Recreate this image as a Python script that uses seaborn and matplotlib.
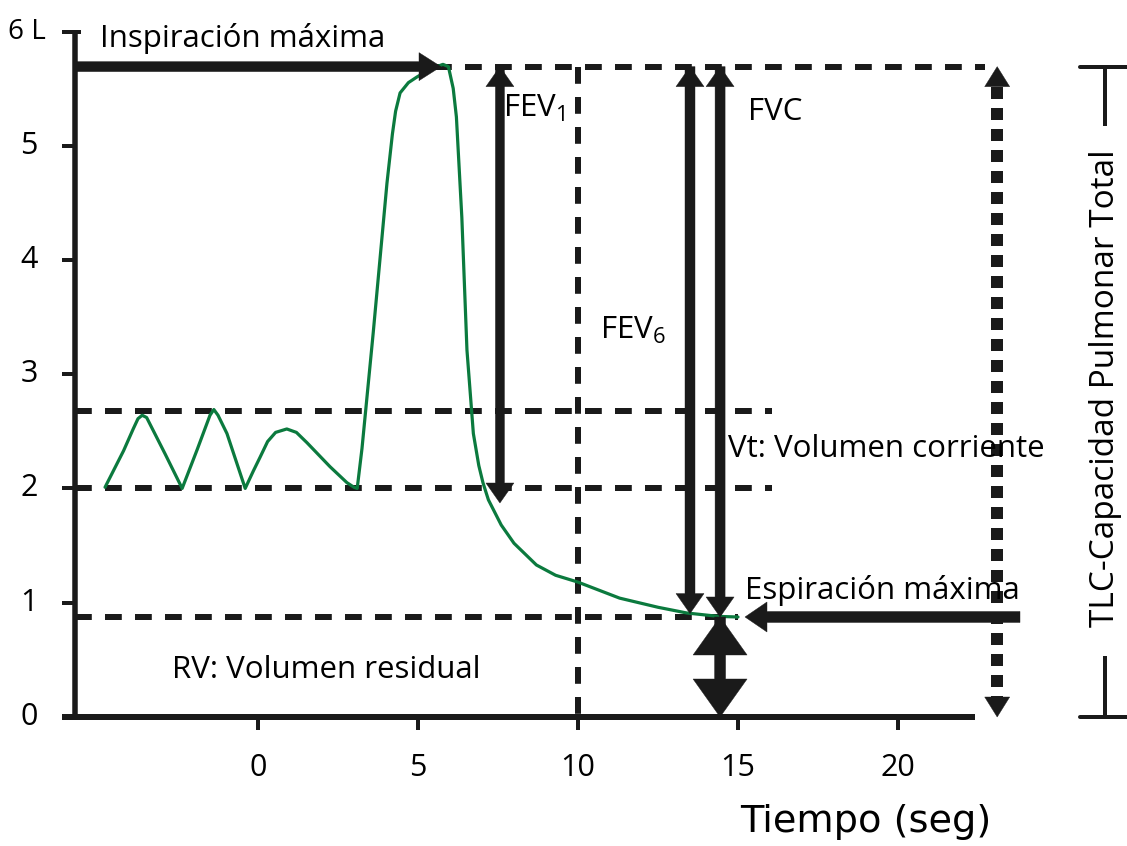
import numpy as np
import pandas as pd
import matplotlib
matplotlib.use("Agg")
import matplotlib.pyplot as plt
import seaborn as sns

# ---------------- data ----------------
time_s = [-4.78, -4.2, -3.9, -3.75, -3.62, -3.48, -2.9, -2.37, -1.9, -1.5, -1.38, -1.25,
          -0.97, -0.4, -0.15, 0.06, 0.3, 0.55, 0.9, 1.2, 1.53, 2.25, 2.78, 3.0, 3.1,
          3.25, 3.6, 4.03, 4.2, 4.3, 4.44, 4.7, 4.97, 5.4, 5.78, 5.95, 6.1, 6.2, 6.37,
          6.53, 6.73, 6.9, 7.03, 7.2, 7.6, 8.0, 8.7, 9.3, 10.0, 11.3, 12.5, 13.4, 14.4, 15.0]
volume_l = [2.01, 2.33, 2.52, 2.61, 2.64, 2.62, 2.3, 2.0, 2.34, 2.64, 2.69, 2.64,
            2.48, 2.0, 2.15, 2.27, 2.41, 2.49, 2.52, 2.49, 2.40, 2.19, 2.05, 2.01, 2.0,
            2.35, 3.36, 4.67, 5.1, 5.3, 5.46, 5.55, 5.6, 5.67, 5.71, 5.69, 5.5, 5.25, 4.37,
            3.21, 2.48, 2.2, 2.05, 1.9, 1.68, 1.52, 1.33, 1.24, 1.18, 1.04, 0.96, 0.91, 0.88, 0.875]

y_ticks = [0, 1, 2, 3, 4, 5]
y_tick_labels = ["0", "1", "2", "3", "4", "5"]
x_ticks = [0, 5, 10, 15, 20]
x_tick_labels = ["0", "5", "10", "15", "20"]

TLC = 5.69        # inspiración máxima
VT_TOP = 2.68     # tidal top
VT_BOT = 2.0      # tidal bottom
RV = 0.875        # volumen residual
T_FEV1 = 7.56
T_DASH = 10.0
T_FEV6 = 13.5
T_FVC = 14.44
T_TLC = 23.1

GREEN = "#0b7a3e"
INK = "#000000"
FONT = ["Open Sans", "DejaVu Sans"]

# ---------------- figure ----------------
sns.set_theme(style="white")
plt.rcParams["font.family"] = FONT
plt.rcParams["mathtext.fontset"] = "custom"
plt.rcParams["mathtext.rm"] = "Open Sans"
plt.rcParams["mathtext.it"] = "Open Sans"

fig = plt.figure(figsize=(11.27, 8.46), dpi=100)
ax = fig.add_axes([0, 0, 1, 1])
PX = 32.0     # pixels per second
PY = 114.3    # pixels per litre
ax.set_xlim(-258 / PX, (1127 - 258) / PX)
ax.set_ylim(-(846 - 717) / PY, 717 / PY)
ax.axis("off")

def px2pt(p):
    return p * 0.72

AX_X = (75 - 258) / PX
# axes
ax.plot([AX_X, AX_X], [0, 5.99], color="k", lw=px2pt(5.5), solid_capstyle="butt")
ax.plot([(62 - 258) / PX, (975 - 258) / PX], [0, 0], color="k", lw=px2pt(6), solid_capstyle="butt")
ax.plot([(62 - 258) / PX, (81 - 258) / PX], [5.99, 5.99], color="k", lw=px2pt(4), solid_capstyle="butt")
for yt, lab in zip(y_ticks, y_tick_labels):
    ax.plot([(62 - 258) / PX, AX_X], [yt, yt], color="k", lw=px2pt(4), solid_capstyle="butt")
    ax.text((29 - 258) / PX, yt, lab, ha="center", va="center", fontsize=22, color=INK)
ax.text((27 - 258) / PX, 5.99, "6 L", ha="center", va="center", fontsize=20, color=INK)
for xt, lab in zip(x_ticks, x_tick_labels):
    ax.plot([xt, xt], [0, -13 / PY], color="k", lw=px2pt(4), solid_capstyle="butt")
    ax.text(xt, -51 / PY, lab, ha="center", va="center", fontsize=22, color=INK)
ax.text(19.0, -105 / PY, "Tiempo (seg)", ha="center", va="center", fontsize=27.5,
        color=INK, family=["DejaVu Sans"])

# dashed reference lines
dash_lw = px2pt(6)
dash = (0, (2.8, 2.2))
ax.plot([AX_X, (985 - 258) / PX], [TLC, TLC], color="k", lw=dash_lw, ls=dash, dash_capstyle="butt")
ax.plot([AX_X, 16.06], [VT_TOP, VT_TOP], color="k", lw=dash_lw, ls=dash, dash_capstyle="butt")
ax.plot([AX_X, 16.06], [VT_BOT, VT_BOT], color="k", lw=dash_lw, ls=dash, dash_capstyle="butt")
ax.plot([AX_X, 15.0], [RV, RV], color="k", lw=dash_lw, ls=dash, dash_capstyle="butt")
ax.plot([T_DASH, T_DASH], [TLC, 0], color="k", lw=dash_lw, ls=dash, dash_capstyle="butt")

# curve
df = pd.DataFrame({"t": time_s, "v": volume_l})
sns.lineplot(data=df, x="t", y="v", color=GREEN, lw=2.3, sort=False, estimator=None, ax=ax)
ax.set_xlabel(""); ax.set_ylabel("")

# arrows
def harrow(x0, x1, y, shaft, hw, hl):
    ax.arrow(x0, y, x1 - x0, 0, width=shaft / PY, head_width=hw / PY, head_length=hl / PX,
             length_includes_head=True, fc="k", ec="k", lw=0.3, zorder=4)

def varrow(x, y0, y1, shaft, hw, hl):
    ax.arrow(x, y0, 0, y1 - y0, width=shaft / PX, head_width=hw / PX, head_length=hl / PY,
             length_includes_head=True, fc="k", ec="k", lw=0.3, zorder=4)

def vdouble(x, ya, yb, shaft, hw, hl):
    # full arrow towards yb, plus a head at ya
    varrow(x, ya, yb, shaft, hw, hl)
    sgn = 1 if ya > yb else -1
    varrow(x, ya - sgn * hl / PY, ya, 0.1, hw, hl)

harrow(AX_X, (441 - 258) / PX, TLC, 10, 28, 22)
vdouble(T_FEV1, TLC, (717 - 503) / PY, 9, 28, 20)
vdouble(T_FEV6, TLC, 0.905, 10, 28, 20)
vdouble(T_FVC, TLC, RV, 10, 28, 20)
harrow((1020 - 258) / PX, (745 - 258) / PX, RV, 11, 30, 22)
vdouble(T_FVC, RV, 0.0, 11, 54, 38)

# dotted TLC arrow
hl_d = 20
ax.plot([T_TLC, T_TLC], [TLC - hl_d / PY, hl_d / PY], color="k", lw=px2pt(12),
        ls=(0, (1.0, 0.75)), dash_capstyle="butt")
varrow(T_TLC, TLC - hl_d / PY, TLC, 0.1, 25, hl_d)
varrow(T_TLC, hl_d / PY, 0.0, 0.1, 25, hl_d)

# right bracket
BX = (1105 - 258) / PX
blw = px2pt(4)
ax.plot([BX, BX], [TLC, (717 - 126) / PY], color="k", lw=blw, solid_capstyle="butt")
ax.plot([BX, BX], [(717 - 656) / PY, 0], color="k", lw=blw, solid_capstyle="butt")
ax.plot([(1080 - 258) / PX, (1128 - 258) / PX], [TLC, TLC], color="k", lw=blw)
ax.plot([(1080 - 258) / PX, (1128 - 258) / PX], [0, 0], color="k", lw=blw)
ax.text(BX, (717 - 388) / PY, "TLC-Capacidad Pulmonar Total", rotation=90, ha="center",
        va="center", fontsize=24, color=INK)

# labels
fs = 22.5
ax.text((100 - 258) / PX, (717 - 38) / PY, "Inspiración máxima", ha="left", va="center", fontsize=fs, color=INK)
ax.text((503 - 258) / PX, (717 - 108) / PY, "FEV$_\\mathrm{1}$", ha="left", va="center", fontsize=fs, color=INK)
ax.text((748 - 258) / PX, (717 - 112) / PY, "FVC", ha="left", va="center", fontsize=fs, color=INK)
ax.text((600 - 258) / PX, (717 - 330) / PY, "FEV$_\\mathrm{6}$", ha="left", va="center", fontsize=fs, color=INK)
ax.text((728 - 258) / PX, (717 - 449) / PY, "Vt: Volumen corriente", ha="left", va="center", fontsize=fs, color=INK)
ax.text((745 - 258) / PX, (717 - 591) / PY, "Espiración máxima", ha="left", va="center", fontsize=fs, color=INK)
ax.text((172 - 258) / PX, (717 - 670) / PY, "RV: Volumen residual", ha="left", va="center", fontsize=fs, color=INK)

fig.savefig("out.png", dpi=100)
